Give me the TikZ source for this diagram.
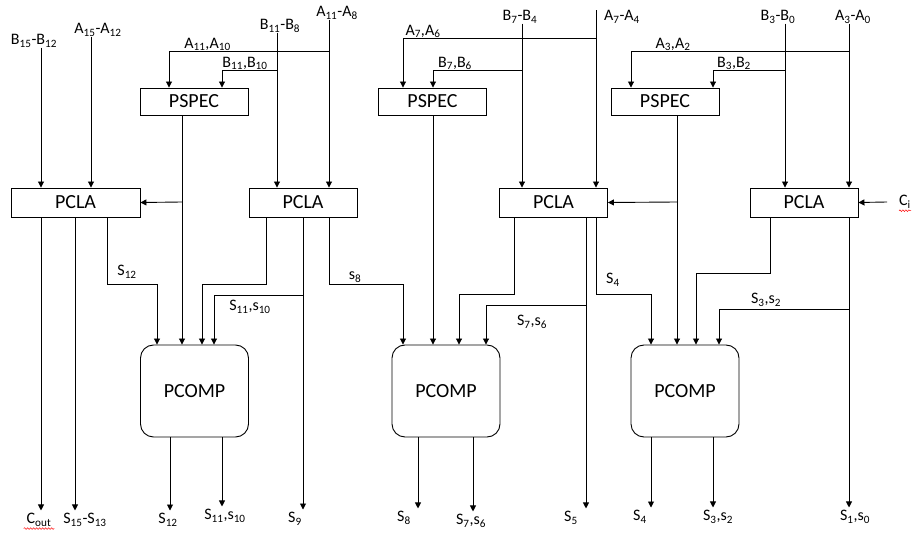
\documentclass[tikz,border=0pt]{standalone}
\usepackage{fontspec}
\setmainfont{Carlito}
\usetikzlibrary{arrows.meta,positioning,decorations.pathmorphing}

\begin{document}
\begin{tikzpicture}[x=1pt,y=-1pt,
  blk/.style={draw,fill=white,minimum width=108pt,minimum height=27pt,
    inner sep=0pt,line width=0.9pt,font=\fontsize{20}{22}\selectfont},
  pcla/.style={blk,minimum height=29pt},
  pcomp/.style={blk,rounded corners=13pt,minimum height=92pt},
  lbl/.style={inner sep=0pt,font=\fontsize{16}{18}\selectfont},
  outlbl/.style={lbl,outer sep=3pt},
  arrow/.style={-{Triangle[length=6pt,width=6pt]},line width=0.9pt},
  spell/.style={red,line width=0.5pt,decorate,
    decoration={snake,amplitude=0.8pt,segment length=3pt}}]
\useasboundingbox (0,0) rectangle (913,534);

\node[blk](pspecA) at (194,101.5){PSPEC};
\node[blk](pspecB) at (432.5,101.5){PSPEC};
\node[blk](pspecC) at (665,101.5){PSPEC};
\node[pcla,minimum width=129pt](pclaA) at (75.5,202.5){PCLA};
\node[pcla](pclaB) at (303,202.5){PCLA};
\node[pcla](pclaC) at (553.5,202.5){PCLA};
\node[pcla](pclaD) at (804,202.5){PCLA};
\node[pcomp](pcompA) at (194.5,391){PCOMP};
\node[pcomp](pcompB) at (446,391){PCOMP};
\node[pcomp](pcompC) at (685,391){PCOMP};

\node[lbl](inB15) at (34,41){B\textsubscript{15}-B\textsubscript{12}};
\node[lbl](inA15) at (98,30){A\textsubscript{15}-A\textsubscript{12}};
\node[lbl](inB11) at (280,26){B\textsubscript{11}-B\textsubscript{8}};
\node[lbl](inA11) at (337,13){A\textsubscript{11}-A\textsubscript{8}};
\node[lbl](inB7) at (520,17){B\textsubscript{7}-B\textsubscript{4}};
\node[lbl](inA7) at (622,17){A\textsubscript{7}-A\textsubscript{4}};
\node[lbl](inB3) at (778,17){B\textsubscript{3}-B\textsubscript{0}};
\node[lbl](inA3) at (853,17){A\textsubscript{3}-A\textsubscript{0}};
\node[lbl](cin) at (905,202){C\textsubscript{i}};
\draw[spell] ([yshift=-2pt]cin.south west) -- ([yshift=-2pt]cin.south east);

\node[lbl,anchor=south](lA11) at (207.5,51){A\textsubscript{11},A\textsubscript{10}};
\node[lbl,anchor=south](lB11) at (245,70){B\textsubscript{11},B\textsubscript{10}};
\node[lbl,anchor=south](lA7) at (423,38){A\textsubscript{7},A\textsubscript{6}};
\node[lbl,anchor=south](lB7) at (455,70){B\textsubscript{7},B\textsubscript{6}};
\node[lbl,anchor=south](lA3) at (673,51){A\textsubscript{3},A\textsubscript{2}};
\node[lbl,anchor=south](lB3) at (734,70){B\textsubscript{3},B\textsubscript{2}};

\node[lbl](mS12) at (127,272){S\textsubscript{12}};
\node[lbl](mS11) at (250,307){S\textsubscript{11},s\textsubscript{10}};
\node[lbl](mS8) at (355,277){s\textsubscript{8}};
\node[lbl](mS7) at (532,322){S\textsubscript{7},s\textsubscript{6}};
\node[lbl](mS4) at (613,280){S\textsubscript{4}};
\node[lbl](mS3) at (766,300){S\textsubscript{3},s\textsubscript{2}};

\node[outlbl](oCout) at (39,520){C\textsubscript{out}};
\draw[spell] ([yshift=1pt]oCout.south west) -- ([yshift=1pt]oCout.south east);
\node[outlbl](oS15) at (85,520){S\textsubscript{15}-S\textsubscript{13}};
\node[outlbl](oS12) at (168,520){S\textsubscript{12}};
\node[outlbl](oS11) at (225,516){S\textsubscript{11},s\textsubscript{10}};
\node[outlbl](oS9) at (295,519){S\textsubscript{9}};
\node[outlbl](oS8) at (404,518){S\textsubscript{8}};
\node[outlbl](oS7) at (471,521){S\textsubscript{7},s\textsubscript{6}};
\node[outlbl](oS5) at (571,518){S\textsubscript{5}};
\node[outlbl](oS4) at (640,517){S\textsubscript{4}};
\node[outlbl](oS3) at (718,517){S\textsubscript{3},s\textsubscript{2}};
\node[outlbl](oS1) at (855,517){S\textsubscript{1},s\textsubscript{0}};

\draw[arrow](inB15.south -| 41,0) -- (pclaA.north -| 41,0);
\draw[arrow](inA15.south -| 91,0) -- (pclaA.north -| 91,0);
\draw[arrow](inB11.south -| 277,0) -- (pclaB.north -| 277,0);
\draw[arrow](inA11.south -| 329,0) -- (pclaB.north -| 329,0);
\draw[arrow](inB7.south -| 522,0) -- (pclaC.north -| 522,0);
\draw[arrow](inA7.north west -| 596,0) -- (pclaC.north -| 596,0);
\draw[arrow](inB3.south -| 785,0) -- (pclaD.north -| 785,0);
\draw[arrow](inA3.south -| 849,0) -- (pclaD.north -| 849,0);
\draw[arrow]([xshift=-12pt]cin.west) -- (pclaD.east);

\draw[arrow](329,51) -| (pspecA.north -| 169,0);
\draw[arrow](277,70) -| (pspecA.north -| 222,0);
\draw[arrow](596,38) -| (pspecB.north -| 403,0);
\draw[arrow](522,70) -| (pspecB.north -| 433,0);
\draw[arrow](849,51) -| (pspecC.north -| 631,0);
\draw[arrow](785,70) -| (pspecC.north -| 713,0);

\draw[arrow](pspecA.south -| 182,0) -- (pcompA.north -| 182,0);
\draw[arrow](182,202) -- (pclaA.east);
\draw[arrow](pspecB.south -| 433,0) -- (pcompB.north -| 433,0);
\draw[arrow](pspecC.south -| 677,0) -- (pcompC.north -| 677,0);
\draw[arrow](677,202) -- (pclaC.east);

\draw[arrow](pclaA.south -| 41,0) -- (oCout.north -| 41,0);
\draw[arrow](pclaA.south -| 75,0) -- (oS15.north -| 75,0);
\draw[arrow](pclaA.south -| 107,0) -- (107,284) -| (pcompA.north -| 157,0);
\draw[arrow](pclaB.south -| 266,0) -- (266,284) -| (pcompA.north -| 202,0);
\draw[arrow](pclaB.south -| 303,0) -- (oS9.north -| 303,0);
\draw[arrow](303,295) -| (pcompA.north -| 214,0);
\draw[arrow](pclaB.south -| 329,0) -- (329,284) -| (pcompB.north -| 403,0);
\draw[arrow](pclaC.south -| 514,0) -- (514,294) -| (pcompB.north -| 459,0);
\draw[arrow](pclaC.south -| 586,0) -- (oS5.north -| 586,0);
\draw[arrow](586,305) -| (pcompB.north -| 486,0);
\draw[arrow](pclaC.south -| 596,0) -- (596,294) -| (pcompC.north -| 651,0);
\draw[arrow](pclaD.south -| 770,0) -- (770,273) -| (pcompC.north -| 696,0);
\draw[arrow](pclaD.south -| 849,0) -- (oS1.north -| 849,0);
\draw[arrow](849,309) -| (pcompC.north -| 719,0);

\draw[arrow](pcompA.south -| 170,0) -- (oS12.north -| 170,0);
\draw[arrow](pcompA.south -| 222,0) -- (oS11.north -| 222,0);
\draw[arrow](pcompB.south -| 418,0) -- (oS8.north -| 418,0);
\draw[arrow](pcompB.south -| 473,0) -- (oS7.north -| 473,0);
\draw[arrow](pcompC.south -| 651,0) -- (oS4.north -| 651,0);
\draw[arrow](pcompC.south -| 713,0) -- (oS3.north -| 713,0);
\end{tikzpicture}
\end{document}
